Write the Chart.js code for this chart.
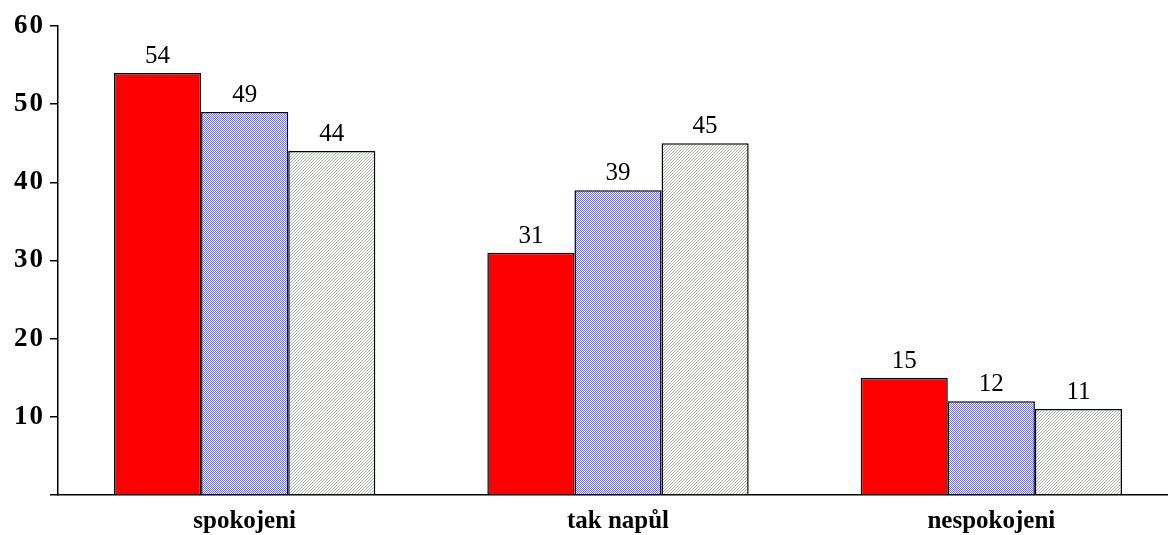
<!DOCTYPE html>
<html>
<head>
<meta charset="utf-8">
<script src="https://cdn.jsdelivr.net/npm/chart.js@4/dist/chart.umd.min.js"></script>
<style>
  html, body { margin: 0; padding: 0; background: #fff; overflow: hidden; }
  #wrap { width: 1182px; height: 535px; }
</style>
</head>
<body>
<div id="wrap"><canvas id="chart" width="1182" height="535"></canvas></div>
<script>
'use strict';

var categories = ['spokojeni', 'tak napůl', 'nespokojeni'];
var seriesA = [54, 31, 15];
var seriesB = [49, 39, 12];
var seriesC = [44, 45, 11];
var yTicks = [10, 20, 30, 40, 50, 60];

// small tiles used as fills for the 2nd and 3rd bar of each group
function makePattern(size, draw) {
  var c = document.createElement('canvas');
  c.width = size;
  c.height = size;
  var g = c.getContext('2d');
  g.fillStyle = '#ffffff';
  g.fillRect(0, 0, size, size);
  draw(g);
  return g.createPattern(c, 'repeat');
}

var ctx = document.getElementById('chart').getContext('2d');

var bluePattern = makePattern(2, function (g) {
  g.fillStyle = '#6e6eff';
  g.fillRect(0, 0, 1, 1);
  g.fillRect(1, 1, 1, 1);
});

var grayPattern = makePattern(3, function (g) {
  g.fillStyle = '#aab4aa';
  g.fillRect(2, 0, 1, 1);
  g.fillRect(1, 1, 1, 1);
  g.fillRect(0, 2, 1, 1);
});

var valueLabels = {
  id: 'valueLabels',
  afterDatasetsDraw: function (chart) {
    var c = chart.ctx;
    c.save();
    c.font = '25px "Liberation Serif", "Times New Roman", serif';
    c.fillStyle = '#000';
    c.textAlign = 'center';
    c.textBaseline = 'alphabetic';
    chart.data.datasets.forEach(function (ds, i) {
      chart.getDatasetMeta(i).data.forEach(function (bar, j) {
        c.fillText(String(ds.data[j]), bar.x, bar.y - 10);
      });
    });
    c.restore();
  }
};

var myChart = new Chart(ctx, {
  type: 'bar',
  data: {
    labels: categories,
    datasets: [
      { data: seriesA, backgroundColor: '#ff0000' },
      { data: seriesB, backgroundColor: bluePattern },
      { data: seriesC, backgroundColor: grayPattern }
    ]
  },
  options: {
    responsive: false,
    devicePixelRatio: 1,
    animation: false,
    categoryPercentage: 0.7,
    barPercentage: 1,
    borderColor: '#000',
    borderWidth: 1.5,
    layout: { padding: { top: 26, right: 4, left: 0, bottom: 0 } },
    plugins: {
      legend: { display: false },
      tooltip: { enabled: false }
    },
    scales: {
      x: {
        grid: { display: true, drawOnChartArea: false, drawTicks: false, color: 'rgba(0,0,0,0)' },
        border: { display: true, color: '#000', width: 1.5 },
        ticks: {
          color: '#000',
          padding: 12,
          font: { family: '"Liberation Serif", "Times New Roman", serif', size: 25, weight: 'bold' }
        },
        afterFit: function (scale) { scale.height = 40; }
      },
      y: {
        min: 0,
        max: 60,
        afterBuildTicks: function (scale) {
          scale.ticks = [{ value: 0 }].concat(yTicks.map(function (v) { return { value: v }; }));
        },
        grid: { drawOnChartArea: false, drawTicks: true, tickLength: 8, color: '#000', lineWidth: 1.5 },
        border: { display: true, color: '#000', width: 1.5 },
        ticks: {
          color: '#000',
          padding: 5,
          font: { family: '"Liberation Serif", "Times New Roman", serif', size: 27, weight: 'bold' },
          callback: function (v) { return v === 0 ? '' : v; }
        },
        afterFit: function (scale) { scale.width = 58; }
      }
    }
  },
  plugins: [valueLabels]
});

// the y labels in the original are drawn with a bit of letter spacing
var yScale = myChart.scales.y;
var origDrawLabels = yScale.drawLabels;
yScale.drawLabels = function (area) {
  this.ctx.save();
  this.ctx.letterSpacing = '2px';
  origDrawLabels.call(this, area);
  this.ctx.restore();
};
myChart.draw();
</script>
</body>
</html>
